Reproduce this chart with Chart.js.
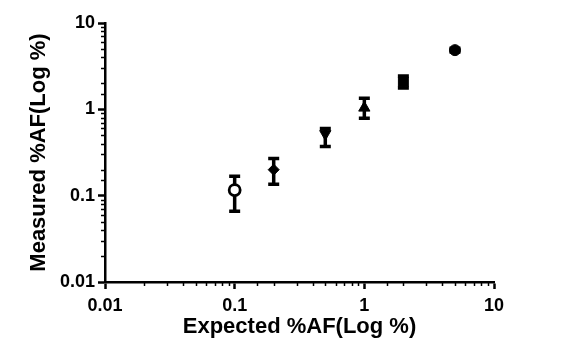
<!DOCTYPE html>
<html><head><meta charset="utf-8">
<script src="https://cdn.jsdelivr.net/npm/chart.js@4"></script>
<style>html,body{margin:0;padding:0;background:#fff}</style>
</head><body>
<canvas id="c" width="567" height="356"></canvas>
<script>
const expected = [0.1, 0.2, 0.5, 1, 2, 5];
const measured = [0.116, 0.20, 0.52, 1.04, 2.08, 4.85];
const errLow = [0.066, 0.136, 0.37, 0.79, 1.77, 4.6];
const errHigh = [0.168, 0.27, 0.60, 1.34, 2.44, 5.1];
const markerStyles = ['circle', 'rectRot', 'triangle', 'triangle', 'rect', 'circle'];
const markerRotation = [0, 0, 180, 0, 0, 0];
const markerFill = ['#fff', '#000', '#000', '#000', '#000', '#000'];
const markerRadius = [5.5, 5.5, 6.5, 6.5, 7, 5.5];
const markerBorder = [2.8, 1, 1, 1, 1, 1];
const tickValues = [0.01, 0.1, 1, 10];
const xTitle = 'Expected %AF(Log %)';
const yTitle = 'Measured %AF(Log %)';

const FONT = 'Liberation Sans, Arial, Helvetica, sans-serif';

const errorBars = {
  id: 'errorBars',
  beforeDatasetsDraw(chart) {
    const {ctx, scales: {x, y}} = chart;
    ctx.save();
    ctx.strokeStyle = '#000';
    ctx.lineWidth = 3.5;
    expected.forEach((e, i) => {
      const px = x.getPixelForValue(e);
      const yl = y.getPixelForValue(errLow[i]);
      const yh = y.getPixelForValue(errHigh[i]);
      ctx.beginPath();
      ctx.moveTo(px, yl); ctx.lineTo(px, yh);
      ctx.moveTo(px - 5.5, yl); ctx.lineTo(px + 5.5, yl);
      ctx.moveTo(px - 5.5, yh); ctx.lineTo(px + 5.5, yh);
      ctx.stroke();
    });
    ctx.restore();
  }
};

const minorTicks = {
  id: 'minorTicks',
  afterDraw(chart) {
    const {ctx, scales: {x, y}} = chart;
    ctx.save();
    ctx.strokeStyle = '#000';
    ctx.lineWidth = 1.5;
    x.ticks.forEach(t => {
      if (t.major) return;
      const px = Math.round(x.getPixelForValue(t.value)) + 0.5;
      ctx.beginPath();
      ctx.moveTo(px, x.top); ctx.lineTo(px, x.top + 4);
      ctx.stroke();
    });
    y.ticks.forEach(t => {
      if (t.major) return;
      const py = Math.round(y.getPixelForValue(t.value)) + 0.5;
      ctx.beginPath();
      ctx.moveTo(y.right, py); ctx.lineTo(y.right - 4, py);
      ctx.stroke();
    });
    ctx.restore();
  }
};

const isMajorVal = v => tickValues.some(t => Math.abs(t - v) / t < 1e-6);

new Chart(document.getElementById('c'), {
  type: 'scatter',
  data: {
    datasets: [{
      data: expected.map((e, i) => ({x: e, y: measured[i]})),
      pointStyle: markerStyles,
      rotation: markerRotation,
      pointRotation: markerRotation,
      backgroundColor: markerFill,
      borderColor: '#000',
      borderWidth: markerBorder,
      pointRadius: markerRadius,
      pointHoverRadius: markerRadius
    }]
  },
  options: {
    responsive: false,
    animation: false,
    events: [],
    layout: {padding: {left: 0, right: 73, top: 23, bottom: 0}},
    plugins: {legend: {display: false}, tooltip: {enabled: false}},
    scales: {
      x: {
        type: 'logarithmic',
        min: 0.01, max: 10,
        afterFit(s) { s.height = 74; },
        border: {display: true, color: '#000', width: 2.5},
        grid: {
          display: true, drawOnChartArea: false, drawTicks: true, tickLength: 7,
          tickColor: c => (c.tick && isMajorVal(c.tick.value)) ? '#000' : 'rgba(0,0,0,0)',
          tickWidth: 2.5
        },
        ticks: {
          color: '#000', padding: 6, maxRotation: 0, autoSkip: false,
          font: {family: FONT, size: 18, weight: 'bold'},
          callback: v => isMajorVal(v) ? String(v) : ''
        },
        afterBuildTicks(s) { s.ticks.forEach(t => t.major = isMajorVal(t.value)); },
        title: {display: true, text: xTitle, color: '#000',
          font: {family: FONT, size: 22, weight: 'bold'}, padding: {top: 0, bottom: 16}}
      },
      y: {
        type: 'logarithmic',
        min: 0.01, max: 10,
        afterFit(s) { s.width = 105; },
        border: {display: true, color: '#000', width: 2.5},
        grid: {
          display: true, drawOnChartArea: false, drawTicks: true, tickLength: 7,
          tickColor: c => (c.tick && isMajorVal(c.tick.value)) ? '#000' : 'rgba(0,0,0,0)',
          tickWidth: 2.5
        },
        ticks: {
          color: '#000', padding: 3, autoSkip: false,
          font: {family: FONT, size: 18, weight: 'bold'},
          callback: v => isMajorVal(v) ? String(v) : ''
        },
        afterBuildTicks(s) { s.ticks.forEach(t => t.major = isMajorVal(t.value)); },
        title: {display: true, text: yTitle, color: '#000',
          font: {family: FONT, size: 22, weight: 'bold'}, padding: {top: 26, bottom: 0}}
      }
    }
  },
  plugins: [errorBars, minorTicks]
});
</script>
</body></html>
